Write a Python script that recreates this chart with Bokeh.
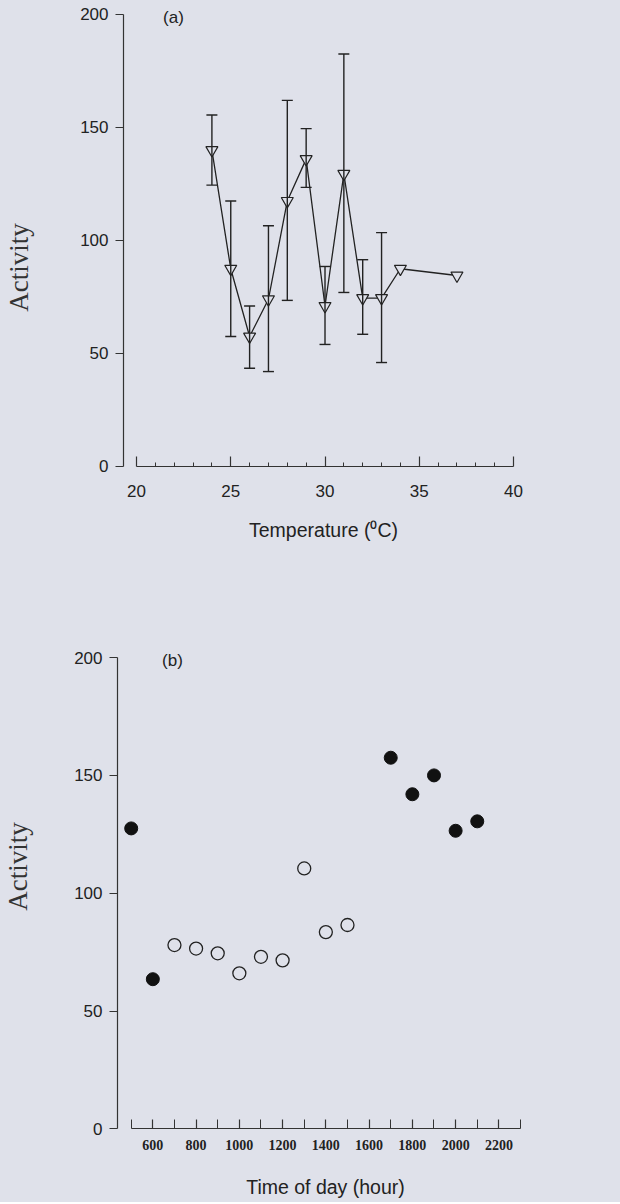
from math import pi
from bokeh.plotting import figure
from bokeh.models import (Range1d, FixedTicker, Whisker, TeeHead, ColumnDataSource, Label)
from bokeh.layouts import column
from bokeh.embed import file_html
from bokeh.resources import INLINE

# ---------------- data: panel (a) ----------------
temp = [24, 25, 26, 27, 28, 29, 30, 31, 32, 33, 34, 37]
activity_a = [140, 87.5, 57.5, 74, 117.5, 136, 71, 129.5, 74.5, 74.5, 87.5, 84.5]
err_temp = [24, 25, 26, 27, 28, 29, 30, 31, 32, 33]
err_upper = [155.5, 117.5, 71, 106.5, 162, 149.5, 88.5, 182.5, 91.5, 103.5]
err_lower = [124.5, 57.5, 43.5, 42, 73.5, 123.5, 54, 77, 58.5, 46]
a_xticks = [20, 25, 30, 35, 40]
a_xminor = [21, 22, 23, 24, 26, 27, 28, 29, 31, 32, 33, 34, 36, 37, 38, 39]
yticks = [0, 50, 100, 150, 200]

# ---------------- data: panel (b) ----------------
hours_open = [700, 800, 900, 1000, 1100, 1200, 1300, 1400, 1500]
activity_open = [78, 76.5, 74.5, 66, 73, 71.5, 110.5, 83.5, 86.5]
hours_filled = [500, 600, 1700, 1800, 1900, 2000, 2100]
activity_filled = [127.5, 63.5, 157.5, 142, 150, 126.5, 130.5]
b_xticks = [600, 800, 1000, 1200, 1400, 1600, 1800, 2000, 2200]
b_xminor = [500, 700, 900, 1100, 1300, 1500, 1700, 1900, 2100, 2300]

BG = "#dfe1ea"
INK = "#222222"
SANS = "Liberation Sans"
SERIF = "Liberation Serif"


def make_fig(height, xr, yr, yaxis_at):
    p = figure(width=620, height=height, output_backend="svg", toolbar_location=None,
               x_range=Range1d(*xr), y_range=Range1d(*yr),
               min_border_left=0, min_border_right=0, min_border_top=0,
               min_border_bottom=0)
    p.background_fill_color = BG
    p.border_fill_color = BG
    p.outline_line_color = None
    p.xgrid.visible = False
    p.ygrid.visible = False
    for ax in (p.xaxis[0], p.yaxis[0]):
        ax.axis_line_color = "#333333"
        ax.axis_line_width = 1.2
        ax.major_tick_line_color = "#333333"
        ax.minor_tick_line_color = "#333333"
        ax.major_tick_line_width = 1.2
        ax.minor_tick_line_width = 1.0
        ax.major_label_text_color = INK
    yax = p.yaxis[0]
    yax.fixed_location = yaxis_at
    yax.ticker = FixedTicker(ticks=yticks)
    yax.bounds = (0, 200)
    yax.major_tick_out = 8
    yax.major_tick_in = 0
    yax.minor_tick_out = 0
    yax.minor_tick_in = 0
    yax.major_label_text_font = SANS
    yax.major_label_text_font_size = "17px"
    yax.major_label_standoff = 7
    xax = p.xaxis[0]
    xax.fixed_location = 0
    xax.major_tick_out = 0
    xax.minor_tick_out = 0
    return p


def add_text(p, x, y, text, font, size, angle=0.0, color=INK):
    p.add_layout(Label(x=x, y=y, text=text, angle=angle, text_font=font,
                       text_font_size=size, text_color=color,
                       text_align="center", text_baseline="middle"))


# ---------------- panel (a) ----------------
pa = make_fig(545, (12.785, 45.676), (-34.96, 206.19), 19.31)
xa = pa.xaxis[0]
xa.ticker = FixedTicker(ticks=a_xticks, minor_ticks=a_xminor)
xa.bounds = (20, 40)
xa.major_tick_in = 10
xa.minor_tick_in = 4
xa.major_label_text_font = SANS
xa.major_label_text_font_size = "17px"
xa.major_label_standoff = 19

err_src = ColumnDataSource(dict(x=err_temp, upper=err_upper, lower=err_lower))
whisk = Whisker(source=err_src, base="x", upper="upper", lower="lower",
                line_color=INK, line_width=1.4, level="glyph",
                upper_head=TeeHead(size=11, line_color=INK, line_width=1.4),
                lower_head=TeeHead(size=11, line_color=INK, line_width=1.4))
pa.add_layout(whisk)
pa.line(temp, activity_a, line_color=INK, line_width=1.3)
pa.scatter(temp, activity_a, marker="inverted_triangle", size=12,
           fill_color=BG, line_color=INK, line_width=1.2)
add_text(pa, 21.96, 198.7, "(a)", SANS, "17px")
add_text(pa, 13.74, 88.0, "Activity", SERIF, "27px", angle=pi / 2, color="#333333")
add_text(pa, 29.92, -28.3, "Temperature (\u2070C)", SANS, "19.5px")

# ---------------- panel (b) ----------------
pb = make_fig(657, (-104.3, 2762.3), (-31.28, 247.58), 436.7)
xb = pb.xaxis[0]
xb.ticker = FixedTicker(ticks=b_xticks, minor_ticks=b_xminor)
xb.bounds = (500, 2300)
xb.major_tick_in = 9
xb.minor_tick_in = 9
xb.major_label_text_font = SERIF
xb.major_label_text_font_style = "bold"
xb.major_label_text_font_size = "14px"
xb.major_label_standoff = 11

pb.scatter(hours_open, activity_open, marker="circle", size=13,
           fill_color=BG, line_color=INK, line_width=1.3)
pb.scatter(hours_filled, activity_filled, marker="circle", size=13,
           fill_color="#111111", line_color="#111111", line_width=1.0)
add_text(pb, 691, 198.7, "(b)", SANS, "17px")
add_text(pb, -21.1, 111.3, "Activity", SERIF, "27px", angle=pi / 2, color="#333333")
add_text(pb, 1398.4, -24.8, "Time of day (hour)", SANS, "19.5px")

layout = column(pa, pb, spacing=0, styles={"background-color": BG})
open("out.html", "w").write(file_html(layout, INLINE))
